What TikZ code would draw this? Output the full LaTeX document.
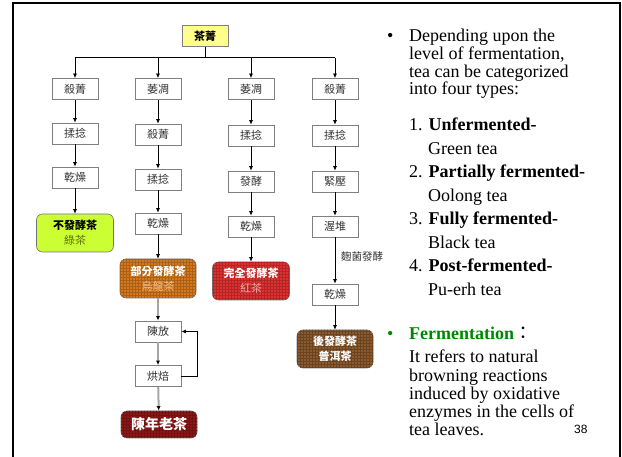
\documentclass[tikz,border=0pt]{standalone}
\usepackage{fontspec}
\setmainfont{Liberation Serif}
\newfontfamily\cjk{Noto Sans CJK TC}
\newfontfamily\arialf{Liberation Sans}
\usetikzlibrary{arrows.meta,patterns}
\definecolor{boxgray}{RGB}{128,128,128}
\definecolor{leafyellow}{RGB}{255,255,140}
\definecolor{limefill}{RGB}{204,255,51}
\definecolor{olivetext}{RGB}{90,110,0}
\definecolor{orangefill}{RGB}{214,120,30}
\definecolor{peachtext}{RGB}{245,200,150}
\definecolor{redfill}{RGB}{222,48,48}
\definecolor{pinktext}{RGB}{245,170,170}
\definecolor{brownfill}{RGB}{140,90,45}
\definecolor{darkredfill}{RGB}{140,22,22}
\definecolor{fgreen}{RGB}{0,135,0}
\begin{document}
\begin{tikzpicture}[x=1pt,y=-1pt,
  proc/.style={draw=boxgray, fill=white, line width=0.8pt, minimum width=46pt,
    minimum height=21pt, inner sep=0pt, text=black!80,
    font=\cjk\fontsize{11}{13}\selectfont},
  topbox/.style={proc, fill=leafyellow, text=black, font=\cjk\bfseries\fontsize{11}{13}\selectfont},
  tea/.style={draw=black!55, rounded corners=6pt, line width=0.6pt,
    minimum width=77pt, minimum height=38pt, inner sep=0pt, align=center,
    font=\cjk\bfseries\fontsize{11}{15}\selectfont},
  arr/.style={-{Latex[length=4.5pt,width=4pt]}, line width=0.7pt},
  garr/.style={-{Latex[length=4.5pt,width=4pt,black]}, draw=black!35, line width=2pt},
  txt/.style={anchor=base west, inner sep=0pt, font=\fontsize{18}{18}\selectfont},
]
\useasboundingbox (0,0) rectangle (622,457);
\draw[line width=2.4pt] (620,470) -- (620,3) -- (13,3) -- (13,470);

% nodes
\node[topbox] (leaf) at (205,36) {茶菁};

\node[proc] (a1) at (75,89) {殺菁};
\node[proc] (a2) at (75,133.5) {揉捻};
\node[proc] (a3) at (75,177.5) {乾燥};
\node[tea, fill=limefill, text=black] (a4) at (75,233) {不發酵茶\\ \mdseries\textcolor{olivetext}{綠茶}};

\node[proc] (b1) at (158,89) {萎凋};
\node[proc] (b2) at (158,134.5) {殺菁};
\node[proc] (b3) at (158,179.5) {揉捻};
\node[proc] (b4) at (158,223.5) {乾燥};
\node[tea, fill=orangefill, text=white, minimum width=76pt, minimum height=39pt,
  postaction={pattern=grid, pattern color=orangefill!80!black}] (b5) at (158,278.5)
  {部分發酵茶\\ \mdseries\textcolor{peachtext}{烏龍茶}};
\node[proc] (b6) at (158,331.5) {陳放};
\node[proc] (b7) at (158,376) {烘焙};
\node[tea, fill=darkredfill, text=white, minimum width=76pt, minimum height=27pt,
  font=\cjk\bfseries\fontsize{14}{16}\selectfont,
  postaction={pattern=grid, pattern color=darkredfill!80!black}] (b8) at (159,424.5) {陳年老茶};

\node[proc] (c1) at (251,89) {萎凋};
\node[proc] (c2) at (251,135.5) {揉捻};
\node[proc] (c3) at (251,181.5) {發酵};
\node[proc] (c4) at (251,226.5) {乾燥};
\node[tea, fill=redfill, text=white,
  postaction={pattern=grid, pattern color=redfill!80!black}] (c5) at (251,281)
  {完全發酵茶\\ \mdseries\textcolor{pinktext}{紅茶}};

\node[proc] (d1) at (335,89) {殺菁};
\node[proc] (d2) at (335,135.5) {揉捻};
\node[proc] (d3) at (335,181.5) {緊壓};
\node[proc] (d4) at (335,226.5) {渥堆};
\node[proc] (d5) at (335,294.5) {乾燥};
\node[tea, fill=brownfill, text=white, minimum width=76pt,
  postaction={pattern=grid, pattern color=brownfill!75!black}] (d6) at (335,349)
  {後發酵茶\\普洱茶};
\node[inner sep=0pt, text=black!80, font=\cjk\fontsize{10.5}{12}\selectfont] (lbl) at (362,257) {麴菌發酵};

% connectors
\draw[line width=0.8pt] (leaf.south) -- ++(0,11) coordinate (bus);
\draw[line width=0.8pt] (bus -| a1) -- (bus -| d1);
\foreach \n in {a1,b1,c1,d1} \draw[arr] (bus -| \n) -- (\n.north);
\foreach \u/\v in {a1/a2,a2/a3,a3/a4,b1/b2,b2/b3,b3/b4,b4/b5,c1/c2,c2/c3,c3/c4,c4/c5,d1/d2,d2/d3,d3/d4,d4/d5,d5/d6}
  \draw[arr] (\u) -- (\v);
\foreach \u/\v in {b5/b6,b6/b7,b7/b8}
  \draw[garr] (\u) -- (\v);
\draw[arr] (b7.east) -- ++(16,0) |- (b6.east);

% right text
\node[txt] (bul1) at (387,42) {\textbullet};
\node[txt] (p1) at (409,42) {Depending upon the};
\node[txt] (p2) at (409,60) {level of fermentation,};
\node[txt] (p3) at (409,77.5) {tea can be categorized};
\node[txt] (p4) at (409,95) {into four types:};
\node[txt] (l1) at (409,131) {1. \textbf{Unfermented-}};
\node[txt] (l1b) at (428,154.5) {Green tea};
\node[txt] (l2) at (409,178) {2. \textbf{Partially fermented-}};
\node[txt] (l2b) at (428,201.5) {Oolong tea};
\node[txt] (l3) at (409,225) {3. \textbf{Fully fermented-}};
\node[txt] (l3b) at (428,248.5) {Black tea};
\node[txt] (l4) at (409,272) {4. \textbf{Post-fermented-}};
\node[txt] (l4b) at (428,295.5) {Pu-erh tea};
\node[txt, text=fgreen] (bul2) at (387,340) {\textbullet};
\node[txt] (f0) at (409,340) {\textcolor{fgreen}{\textbf{Fermentation}}{\cjk ：}};
\node[txt] (f1) at (409,363) {It refers to natural};
\node[txt] (f2) at (409,381.2) {browning reactions};
\node[txt] (f3) at (409,399.4) {induced by oxidative};
\node[txt] (f4) at (409,417.6) {enzymes in the cells of};
\node[txt] (f5) at (409,435.8) {tea leaves.};
\node[anchor=base west, inner sep=0pt, font=\arialf\fontsize{12}{12}\selectfont] (pg) at (574,433) {38};
\end{tikzpicture}
\end{document}
